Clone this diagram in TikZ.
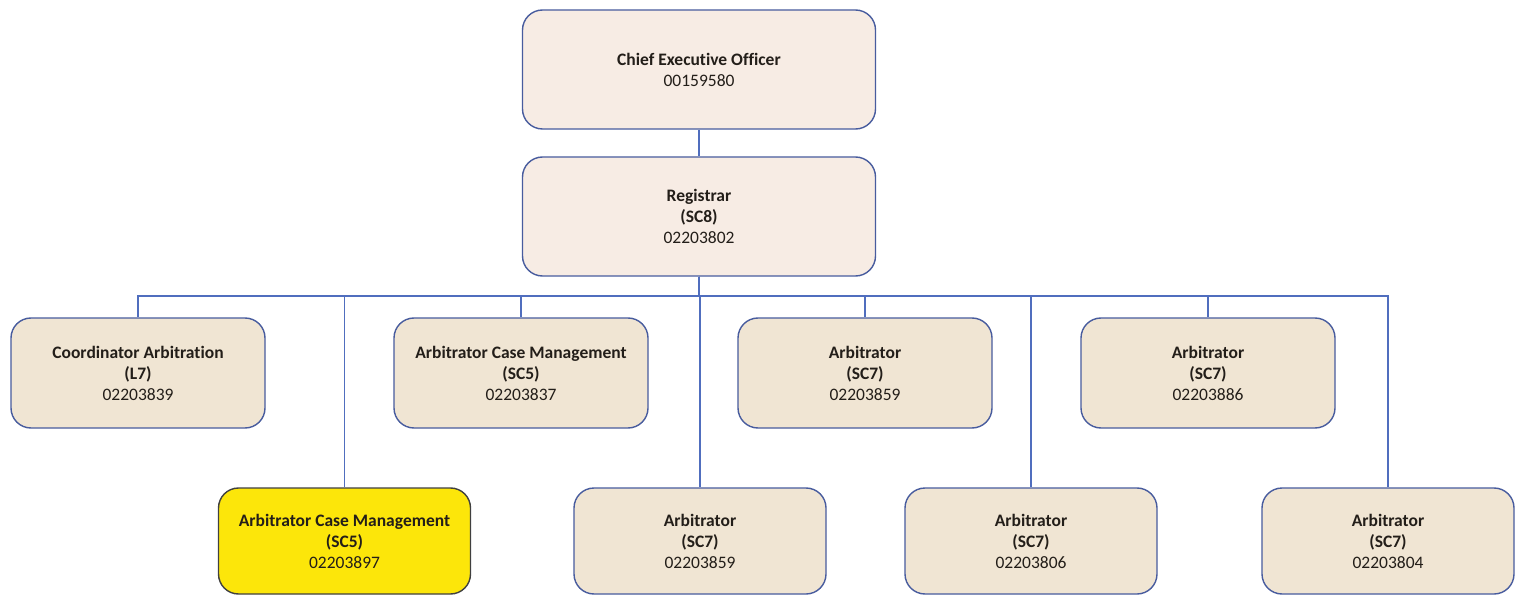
\documentclass[tikz,border=0pt]{standalone}
\usepackage{fontspec}
\setmainfont{Carlito}[Ligatures={NoCommon}]
\begin{document}
\begin{tikzpicture}[x=1pt,y=-1pt,
  box/.style={draw=boxline,line width=1.4pt,rounded corners=20pt,fill=boxfill,
    align=center,font=\fontsize{17.5}{21}\selectfont,text=txt,inner sep=0pt},
  topbox/.style={box,fill=topfill,minimum width=353pt,minimum height=119pt},
  r1/.style={box,minimum width=254pt,minimum height=110pt},
  r2/.style={box,minimum width=252pt,minimum height=106pt},
  conn/.style={draw=connline,line width=1.1pt}]
\definecolor{boxline}{RGB}{72,92,158}
\definecolor{connline}{RGB}{80,110,190}
\definecolor{boxfill}{RGB}{240,229,211}
\definecolor{topfill}{RGB}{247,236,228}
\definecolor{yel}{RGB}{252,230,10}
\definecolor{txt}{RGB}{35,30,25}
\useasboundingbox[fill=white] (0,0) rectangle (1516,596);
\node[topbox] (ceo) at (699,69.5) {\textbf{Chief Executive Officer}\\00159580};
\node[topbox] (reg) at (699,216.5) {\textbf{Registrar}\\\textbf{(SC8)}\\02203802};
\node[r1] (a) at (138,373) {\textbf{Coordinator Arbitration}\\\textbf{(L7)}\\02203839};
\node[r1] (b) at (521,373) {\textbf{Arbitrator Case Management}\\\textbf{(SC5)}\\02203837};
\node[r1] (c) at (865,373) {\textbf{Arbitrator}\\\textbf{(SC7)}\\02203859};
\node[r1] (d) at (1208,373) {\textbf{Arbitrator}\\\textbf{(SC7)}\\02203886};
\node[r2,fill=yel,draw=black!75] (e) at (344.5,541) {\textbf{Arbitrator Case Management}\\\textbf{(SC5)}\\02203897};
\node[r2] (f) at (700,541) {\textbf{Arbitrator}\\\textbf{(SC7)}\\02203859};
\node[r2] (g) at (1031,541) {\textbf{Arbitrator}\\\textbf{(SC7)}\\02203806};
\node[r2] (h) at (1388,541) {\textbf{Arbitrator}\\\textbf{(SC7)}\\02203804};
\coordinate (bus) at (0,296);
\draw[conn] (ceo.south) -- (reg.north);
\foreach \n in {a,b,c,d,e,f,g,h}
  \draw[conn] (reg.south) -- (reg.south|-bus) -| (\n.north);
\end{tikzpicture}
\end{document}
